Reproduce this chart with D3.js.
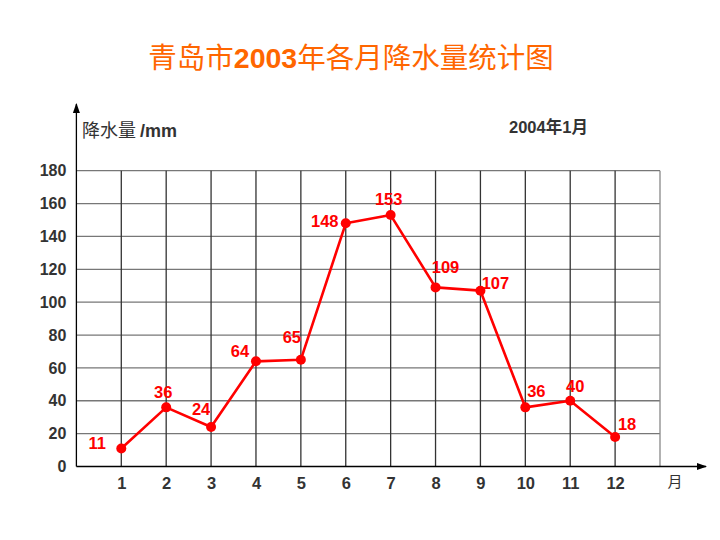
<!DOCTYPE html>
<html><head><meta charset="utf-8">
<script src="https://cdn.jsdelivr.net/npm/d3@7/dist/d3.min.js"></script>
<style>body{margin:0;background:#fff}svg{display:block}</style>
</head><body>
<svg id="c" width="720" height="540"></svg>
<script>
const months = [1,2,3,4,5,6,7,8,9,10,11,12];
const monthLabels = ["1","2","3","4","5","6","7","8","9","10","11","12"];
const rainfall = [11,36,24,64,65,148,153,109,107,36,40,18];
const yTicks = [0,20,40,60,80,100,120,140,160,180];
const title = "青岛市2003年各月降水量统计图";
const yTitle = "降水量 /mm";
const note = "2004年1月";
const xUnit = "月";
// label placement around each point (layout only)
const labelPlacement = [[-24,1],[-3,-9],[-10,-12],[-16,-4],[-9,-17],[-21,4],[-2,-10],[10,-14],[15,-2],[11,-10],[5,-9],[12,-7]];

const svg = d3.select("#c");
const fontNum = "'Liberation Sans', Arial, sans-serif";
const fontCJK = "'Noto Sans CJK SC', sans-serif";
const x = d3.scaleLinear().domain([0,13]).range([76.4,660]);
const y = d3.scaleLinear().domain([0,180]).range([466.5,170.7]);

// title
const t = svg.append("text").attr("x",351).attr("y",68).attr("text-anchor","middle")
  .attr("fill","#FF6600").attr("font-size",28.5);
title.split(/(\d+)/).forEach(part=>{
  if(!part) return;
  const isNum = /\d/.test(part);
  t.append("tspan").text(part)
    .attr("font-family", isNum ? fontNum : fontCJK)
    .attr("font-weight", isNum ? "bold" : "normal");
});

// horizontal grid
svg.append("g").selectAll("line").data(yTicks.filter(d=>d>0)).join("line")
  .attr("x1",x(0)).attr("x2",x(13)).attr("y1",d=>y(d)).attr("y2",d=>y(d))
  .attr("stroke","#777").attr("stroke-width",1.3);
// vertical grid
svg.append("g").selectAll("line").data(months.concat([13])).join("line")
  .attr("x1",d=>x(d)).attr("x2",d=>x(d)).attr("y1",y(180)).attr("y2",y(0))
  .attr("stroke",d=>d===13?"#888":"#333").attr("stroke-width",1.3);

// axes
const defs = svg.append("defs");
defs.append("marker").attr("id","arr").attr("viewBox","0 0 10 10").attr("refX",9).attr("refY",5)
  .attr("markerWidth",8).attr("markerHeight",8).attr("orient","auto-start-reverse")
  .append("path").attr("d","M0,1.5L10,5L0,8.5z").attr("fill","#000");
svg.append("line").attr("x1",x(0)).attr("x2",x(0)).attr("y1",y(0)).attr("y2",104)
  .attr("stroke","#000").attr("stroke-width",1.3).attr("marker-end","url(#arr)");
svg.append("line").attr("x1",x(0)).attr("x2",706).attr("y1",y(0)).attr("y2",y(0))
  .attr("stroke","#000").attr("stroke-width",1.3).attr("marker-end","url(#arr)");

// y tick labels via axis
const yAxis = svg.append("g").attr("transform",`translate(${x(0)},0)`)
  .call(d3.axisLeft(y).tickValues(yTicks).tickSize(0).tickPadding(10));
yAxis.select(".domain").remove();
yAxis.selectAll("text").attr("font-family",fontNum).attr("font-weight","bold")
  .attr("font-size",16).attr("fill","#333");

// x tick labels via axis
const xAxis = svg.append("g").attr("transform",`translate(0,${y(0)})`)
  .call(d3.axisBottom(x).tickValues(months).tickFormat((d,i)=>monthLabels[i]).tickSize(0).tickPadding(11));
xAxis.select(".domain").remove();
xAxis.selectAll("text").attr("font-family",fontNum).attr("font-weight","bold")
  .attr("font-size",16.5).attr("fill","#333");

svg.append("text").attr("x",675).attr("y",487).attr("text-anchor","middle")
  .attr("font-family",fontCJK).attr("font-size",15).attr("fill","#333").text(xUnit);

// y title
const yt = svg.append("text").attr("x",82).attr("y",137).attr("fill","#333").attr("font-size",18);
yt.append("tspan").attr("font-family",fontCJK).text("降水量 ");
yt.append("tspan").attr("font-family",fontNum).attr("font-weight","bold").text("/mm");

// note
const nt = svg.append("text").attr("x",509).attr("y",133).attr("fill","#333").attr("font-size",16.5).attr("font-weight","bold");
note.split(/(\d+)/).forEach(part=>{
  if(!part) return;
  nt.append("tspan").text(part).attr("font-family",/\d/.test(part)?fontNum:fontCJK);
});

// line
const line = d3.line().x((d,i)=>x(months[i])).y(d=>y(d));
svg.append("path").datum(rainfall).attr("d",line).attr("fill","none")
  .attr("stroke","#FF0000").attr("stroke-width",2.6).attr("stroke-linejoin","round");
svg.append("g").selectAll("circle").data(rainfall).join("circle")
  .attr("cx",(d,i)=>x(months[i])).attr("cy",d=>y(d)).attr("r",5).attr("fill","#FF0000");

// value labels
svg.append("g").selectAll("text").data(rainfall).join("text")
  .attr("x",(d,i)=>x(months[i])+labelPlacement[i][0])
  .attr("y",(d,i)=>y(d)+labelPlacement[i][1])
  .attr("text-anchor","middle")
  .attr("font-family",fontNum).attr("font-weight","bold").attr("font-size",16.5).attr("fill","#FF0000")
  .text(d=>d);
</script>
</body></html>
